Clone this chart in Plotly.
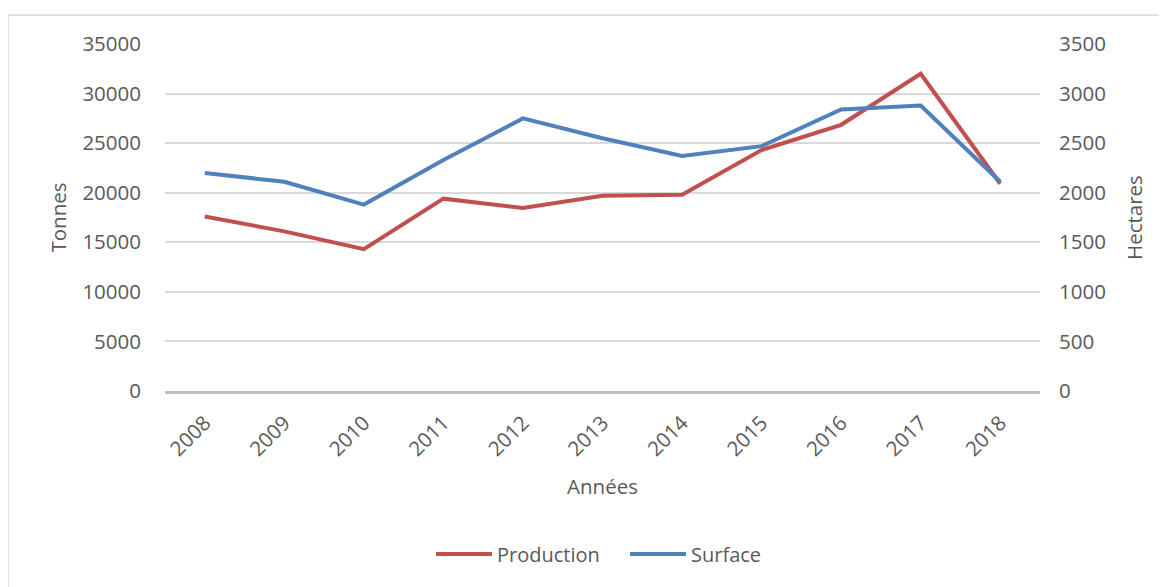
import plotly.graph_objects as go

years = ["2008", "2009", "2010", "2011", "2012", "2013", "2014", "2015", "2016", "2017", "2018"]
production = [17600, 16100, 14300, 19400, 18450, 19700, 19800, 24300, 26850, 32000, 20900]
surface = [2200, 2110, 1880, 2330, 2750, 2550, 2370, 2470, 2840, 2880, 2110]

left_ticks = [0, 5000, 10000, 15000, 20000, 25000, 30000, 35000]
right_ticks = [0, 500, 1000, 1500, 2000, 2500, 3000, 3500]

FONT = "Open Sans"
TXT = "#595959"
FS = 20.5

# page body has an 8px margin; work in reference coordinates minus 8
OFF = 8
W, H = 1167 - OFF, 587 - OFF
L, T = 165 - OFF, 44 - OFF
R = (1167 - 1040)
B = H - (391 - OFF)
pw, ph = W - L - R, H - T - B

def py(yref):
    """reference pixel y -> paper fraction"""
    return ((391 - OFF) - (yref - OFF)) / ph

def px(xref):
    return ((xref - OFF) - L) / pw

fig = go.Figure()
fig.add_trace(go.Scatter(x=years, y=production, name="Production", mode="lines",
                         line=dict(color="#c0504d", width=4), yaxis="y"))
fig.add_trace(go.Scatter(x=years, y=surface, name="Surface", mode="lines",
                         line=dict(color="#4f81bd", width=4), yaxis="y2"))

fig.update_layout(
    width=W, height=H,
    margin=dict(l=L, r=R, t=T, b=B, autoexpand=False),
    paper_bgcolor="white", plot_bgcolor="white",
    font=dict(family=FONT, size=FS, color=TXT),
    showlegend=True,
    legend=dict(orientation="h", x=px(625), xanchor="center", y=py(554),
                yanchor="middle", font=dict(size=20, color=TXT), itemwidth=56,
                entrywidth=123, entrywidthmode="pixels"),
    xaxis=dict(type="category", range=[-0.5, len(years) - 0.5], tickangle=-45,
               showgrid=False, showline=True, automargin=False,
               linecolor="#bfbfbf", linewidth=2.5, ticks="", ticklabelstandoff=9,
               tickfont=dict(size=FS, color=TXT),
               title=dict(text="Années", font=dict(size=FS, color=TXT), standoff=19)),
    yaxis=dict(range=[0, 35000], tickvals=left_ticks, ticktext=[str(v) for v in left_ticks],
               showgrid=True, gridcolor="#d9d9d9", gridwidth=1.5, zeroline=False,
               showline=False, ticks="", ticklabelstandoff=23, automargin=False,
               tickfont=dict(size=FS, color=TXT),
               title=dict(text="Tonnes", font=dict(size=FS, color=TXT), standoff=10)),
    yaxis2=dict(range=[0, 3500], tickvals=right_ticks, ticktext=[str(v) for v in right_ticks],
                overlaying="y", side="right", showgrid=False, zeroline=False,
                showline=False, ticks="", ticklabelstandoff=18, automargin=False,
                tickfont=dict(size=FS, color=TXT),
                title=dict(text="Hectares", font=dict(size=FS, color=TXT), standoff=22)),
)

# outer chart frame
fig.add_shape(type="rect", xref="paper", yref="paper",
              x0=px(8), x1=px(1166), y0=py(600), y1=py(15),
              line=dict(color="#d9d9d9", width=1.5), fillcolor="rgba(0,0,0,0)", layer="below")

fig.write_html("out.html")
